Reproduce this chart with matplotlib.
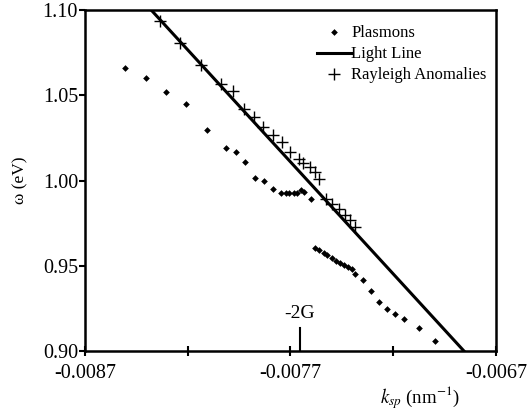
import numpy as np
import matplotlib.pyplot as plt

# plasmoni: k_sp (nm^-1), omega (eV)
k_pl = [-0.008505, -0.008402, -0.008305, -0.008207, -0.008105, -0.008012,
        -0.007963, -0.007920, -0.007871, -0.007827, -0.007783,
        -0.007744, -0.007724, -0.007705, -0.007685, -0.007666,
        -0.007651, -0.007632, -0.007602,
        -0.007583, -0.007563, -0.007539, -0.007520, -0.007500, -0.007480,
        -0.007461, -0.007441, -0.007422, -0.007402, -0.007388, -0.007349,
        -0.007310, -0.007271, -0.007232, -0.007193, -0.007149, -0.007076,
        -0.006998]
w_pl = [1.0659, 1.0600, 1.0518, 1.0447, 1.0294, 1.0188,
        1.0165, 1.0106, 1.0012, 1.0000, 0.9953,
        0.9929, 0.9929, 0.9929, 0.9929, 0.9929,
        0.9947, 0.9935, 0.9894,
        0.9606, 0.9594, 0.9576, 0.9565, 0.9547, 0.9529,
        0.9518, 0.9506, 0.9494, 0.9482, 0.9453, 0.9418,
        0.9353, 0.9288, 0.9247, 0.9218, 0.9188, 0.9135,
        0.9059]

# anomalie di Rayleigh
k_ra = [-0.008334, -0.008237, -0.008134, -0.008037, -0.007978, -0.007924,
        -0.007880, -0.007832, -0.007783, -0.007739, -0.007700, -0.007661,
        -0.007637, -0.007607, -0.007583, -0.007559, -0.007529, -0.007500,
        -0.007466, -0.007437, -0.007412, -0.007388]
w_ra = [1.0935, 1.0806, 1.0676, 1.0565, 1.0524, 1.0418,
        1.0371, 1.0312, 1.0265, 1.0224, 1.0165, 1.0129,
        1.0100, 1.0082, 1.0047, 1.0006, 0.9894, 0.9865,
        0.9835, 0.9800, 0.9771, 0.9729]

# linea di luce (estremi)
k_ll = [-0.008378, -0.006856]
w_ll = [1.10, 0.90]

k_2G = -0.007654
xticks = [-0.0087, -0.0082, -0.0077, -0.0072, -0.0067]
xtick_lbl = ["-0.0087", "", "-0.0077", "", "-0.0067"]
yticks = [0.90, 0.95, 1.00, 1.05, 1.10]

plt.rcParams.update({"font.family": "Liberation Serif", "mathtext.fontset": "stix",
                     "axes.unicode_minus": False})

fig = plt.figure(figsize=(5.27, 4.13), dpi=100)
ax = fig.add_axes([85/527, 1-351/413, 411/527, 341/413])

ax.plot(k_pl, w_pl, "D", color="black", markersize=3.4, markeredgewidth=0,
        label="Plasmons", clip_on=False)
ax.plot(k_ll, w_ll, "-", color="black", linewidth=2.2, label="Light Line")
ax.plot(k_ra, w_ra, "+", color="black", markersize=9, markeredgewidth=1.0,
        label="Rayleigh Anomalies")

ax.set_xlim(-0.0087, -0.0067)
ax.set_ylim(0.90, 1.10)
ax.set_xticks(xticks)
ax.set_xticklabels(xtick_lbl)
ax.set_yticks(yticks)
ax.set_yticklabels([f"{v:.2f}" for v in yticks])
ax.tick_params(axis="both", labelsize=14.5, width=1.5, color="black")
ax.tick_params(axis="x", direction="inout", length=7, pad=6)
ax.tick_params(axis="y", direction="out", length=4, pad=1)
for s in ax.spines.values():
    s.set_linewidth(1.8)

# marcatore -2G
ax.plot([k_2G, k_2G], [0.90, 0.9135], "-", color="black", linewidth=1.5)
ax.text(k_2G, 0.917, "-2G", ha="center", va="bottom", fontsize=14)

ax.set_ylabel(r"ω (eV)", fontsize=12.5, labelpad=10)
fig.text(420/527, 1-398/413, r"$k_{sp}$ (nm$^{-1}$)", fontsize=13.5,
         ha="center", va="center")

ax.legend(loc="upper left", bbox_to_anchor=(0.565, 0.955), frameon=False,
          fontsize=12, borderpad=0, borderaxespad=0, handlelength=2.0,
          handletextpad=0.05, labelspacing=0.3)

plt.savefig("out.png", dpi=100)
plt.close()
